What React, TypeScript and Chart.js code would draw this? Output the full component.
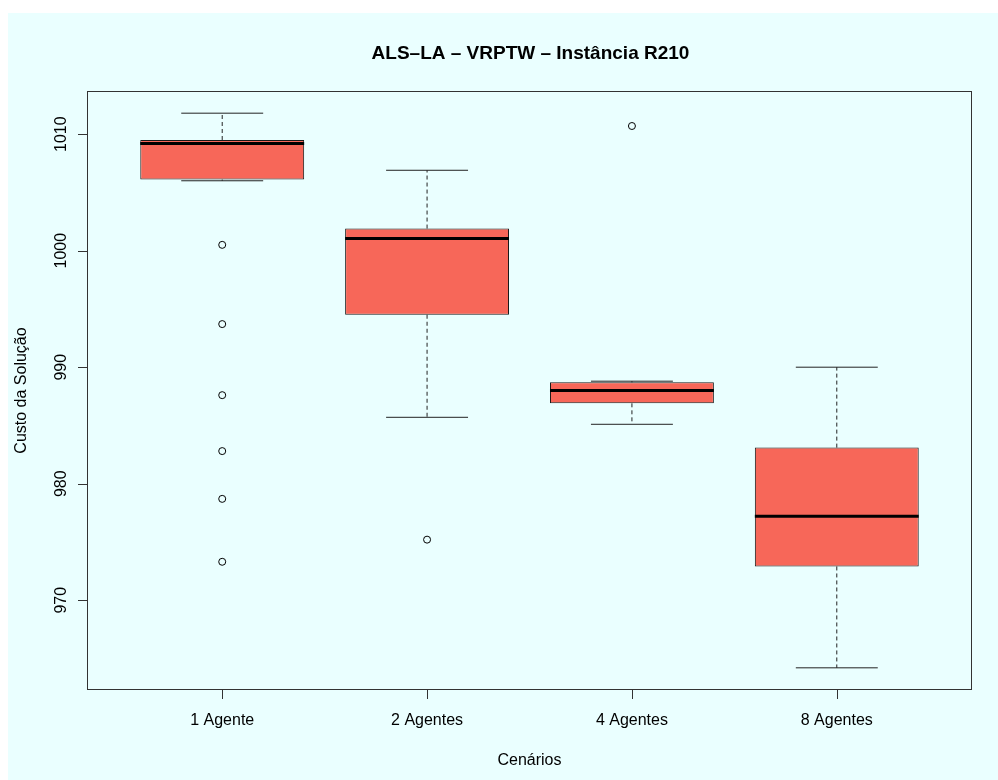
import React, { useEffect, useRef } from 'react';
import { Chart, registerables } from 'chart.js';

Chart.register(...registerables);

// ---- data ----
const chartTitle = 'ALS–LA – VRPTW – Instância R210';
const xAxisTitle = 'Cenários';
const yAxisTitle = 'Custo da Solução';
const categories = ['1 Agente', '2 Agentes', '4 Agentes', '8 Agentes'];
const whiskerLow = [1006.0, 985.7, 985.1, 964.2];
const q1 = [1006.1, 994.5, 986.9, 972.9];
const medians = [1009.2, 1001.05, 988.0, 977.2];
const q3 = [1009.5, 1001.9, 988.7, 983.1];
const whiskerHigh = [1011.8, 1006.9, 988.8, 990.0];
const outliers1 = [1000.5, 993.7, 987.6, 982.8, 978.7, 973.3];
const outliers2 = [975.2];
const outliers3 = [1010.7];
const outliers4: number[] = [];
const yTicks = [970, 980, 990, 1000, 1010];

// ---- styles ----
const BOX_FILL = '#F76759';
const BG = '#EAFFFF';
const FONT = '"Liberation Sans", Arial, Helvetica, sans-serif';

export default function App() {
  const ref = useRef<HTMLCanvasElement | null>(null);

  useEffect(() => {
    if (!ref.current) return;
    const xs = categories.map((_, i) => i + 1);
    const outlierLists = [outliers1, outliers2, outliers3, outliers4];

    const allVals = [...whiskerLow, ...whiskerHigh, ...outliers1, ...outliers2, ...outliers3, ...outliers4];
    const dMin = Math.min(...allVals);
    const dMax = Math.max(...allVals);
    const yPad = (dMax - dMin) * 0.04;
    const xPad = categories.length * 0.04;

    const whiskers = xs.flatMap((x, i) => [
      { x, y: q3[i] }, { x, y: whiskerHigh[i] }, { x, y: null },
      { x, y: q1[i] }, { x, y: whiskerLow[i] }, { x, y: null },
    ]);
    const caps = xs.flatMap((x, i) => [
      { x: x - 0.2, y: whiskerHigh[i] }, { x: x + 0.2, y: whiskerHigh[i] }, { x, y: null },
      { x: x - 0.2, y: whiskerLow[i] }, { x: x + 0.2, y: whiskerLow[i] }, { x, y: null },
    ]);
    const medianLines = xs.flatMap((x, i) => [
      { x: x - 0.4, y: medians[i] }, { x: x + 0.4, y: medians[i] }, { x, y: null },
    ]);
    const outlierPts = xs.flatMap((x, i) => outlierLists[i].map((y) => ({ x, y })));

    const decor = {
      id: 'rdecor',
      afterDraw(chart: any) {
        const { ctx, chartArea } = chart;
        const { left, right, top, bottom } = chartArea;
        const xScale = chart.scales.x;
        const yScale = chart.scales.y;
        ctx.save();
        // plot box
        ctx.strokeStyle = '#333';
        ctx.lineWidth = 1;
        ctx.strokeRect(Math.round(left) + 0.5, Math.round(top) + 0.5, Math.round(right - left) - 1, Math.round(bottom - top) - 1);
        // ticks
        ctx.beginPath();
        xs.forEach((v) => {
          const px = Math.round(xScale.getPixelForValue(v)) + 0.5;
          ctx.moveTo(px, bottom);
          ctx.lineTo(px, bottom + 9);
        });
        yTicks.forEach((v) => {
          const py = Math.round(yScale.getPixelForValue(v)) + 0.5;
          ctx.moveTo(left, py);
          ctx.lineTo(left - 9, py);
        });
        ctx.stroke();
        // labels
        ctx.fillStyle = '#000';
        ctx.textAlign = 'center';
        ctx.textBaseline = 'middle';
        ctx.font = `16px ${FONT}`;
        categories.forEach((c, i) => {
          ctx.fillText(c, xScale.getPixelForValue(xs[i]), bottom + 31);
        });
        ctx.fillText(xAxisTitle, (left + right) / 2, bottom + 71);
        yTicks.forEach((v) => {
          ctx.save();
          ctx.translate(left - 25, yScale.getPixelForValue(v));
          ctx.rotate(-Math.PI / 2);
          ctx.fillText(String(v), 0, 0);
          ctx.restore();
        });
        ctx.save();
        ctx.translate(left - 65, (top + bottom) / 2);
        ctx.rotate(-Math.PI / 2);
        ctx.fillText(yAxisTitle, 0, 0);
        ctx.restore();
        ctx.font = `bold 19px ${FONT}`;
        ctx.fillText(chartTitle, (left + right) / 2 + 1, top - 37);
        ctx.restore();
      },
    };

    const chart = new Chart(ref.current, {
      type: 'bar',
      data: {
        datasets: [
          {
            type: 'line',
            label: 'median',
            data: medianLines as any,
            borderColor: '#000',
            borderWidth: 3,
            pointRadius: 0,
            spanGaps: false,
            order: 0,
          },
          {
            type: 'scatter',
            label: 'outliers',
            data: outlierPts as any,
            pointStyle: 'circle',
            pointRadius: 3.5,
            pointBorderWidth: 1,
            pointBorderColor: '#000',
            pointBackgroundColor: 'rgba(0,0,0,0)',
            borderColor: '#000',
            backgroundColor: 'rgba(0,0,0,0)',
            order: 0,
          } as any,
          {
            type: 'bar',
            label: 'box',
            data: xs.map((x, i) => ({ x, y: [q1[i], q3[i]] })) as any,
            backgroundColor: BOX_FILL,
            borderColor: '#1a1a1a',
            borderWidth: 1,
            borderSkipped: false,
            categoryPercentage: 1,
            barPercentage: 0.8,
            order: 1,
          },
          {
            type: 'line',
            label: 'caps',
            data: caps as any,
            borderColor: '#222',
            borderWidth: 1,
            pointRadius: 0,
            spanGaps: false,
            order: 2,
          },
          {
            type: 'line',
            label: 'whiskers',
            data: whiskers as any,
            borderColor: '#222',
            borderWidth: 1,
            borderDash: [4, 3],
            pointRadius: 0,
            spanGaps: false,
            order: 3,
          },
        ],
      },
      options: {
        responsive: false,
        animation: false,
        devicePixelRatio: 1,
        events: [],
        layout: { padding: { left: 87, top: 91, right: 26, bottom: 90 } },
        plugins: { legend: { display: false }, tooltip: { enabled: false }, title: { display: false } },
        scales: {
          x: {
            type: 'linear',
            display: false,
            offset: false,
            min: 1 - 0.5 - xPad,
            max: categories.length + 0.5 + xPad,
            afterBuildTicks: (s: any) => { s.ticks = xs.map((v) => ({ value: v })); },
          },
          y: {
            type: 'linear',
            display: false,
            beginAtZero: false,
            min: dMin - yPad,
            max: dMax + yPad,
            afterBuildTicks: (s: any) => { s.ticks = yTicks.map((v) => ({ value: v })); },
          },
        },
      } as any,
      plugins: [decor],
    });
    return () => chart.destroy();
  }, []);

  return (
    <div style={{ position: 'fixed', left: 0, top: 0, width: 998, height: 780, background: '#fff' }}>
      <div style={{ position: 'absolute', left: 8, top: 13, width: 990, height: 767, background: BG }} />
      <canvas ref={ref} width={998} height={780} style={{ position: 'absolute', left: 0, top: 0, display: 'block' }} />
    </div>
  );
}
